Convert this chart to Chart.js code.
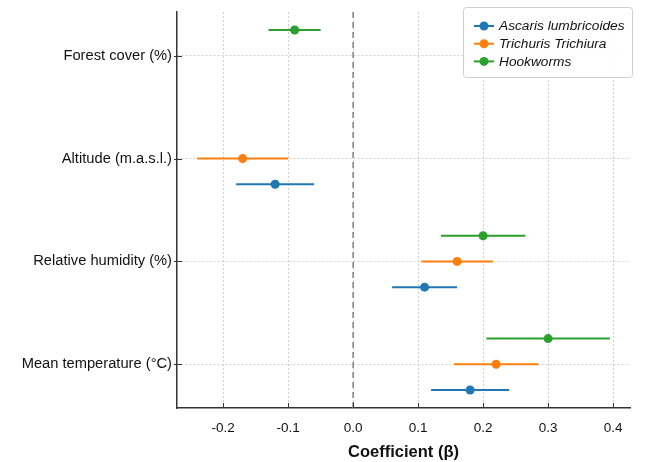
<!DOCTYPE html>
<html>
<head>
<meta charset="utf-8">
<script src="https://cdn.jsdelivr.net/npm/chart.js@4.4.0/dist/chart.umd.min.js"></script>
<style>
  html, body { margin: 0; padding: 0; background: #fff; }
  #wrap { width: 648px; height: 462px; }
</style>
</head>
<body>
<div id="wrap"><canvas id="forest"></canvas></div>
<script>
// rows from bottom (0) to top (3)
const categories = ['Mean temperature (°C)', 'Relative humidity (%)', 'Altitude (m.a.s.l.)', 'Forest cover (%)'];
const seriesNames = ['Ascaris lumbricoides', 'Trichuris Trichiura', 'Hookworms'];
const seriesColors = ['#1f77b4', '#ff7f0e', '#2ca02c'];
const rowOffsets = [-0.25, 0, 0.25];

// coefficient estimates and 95% CI
const ascarisEst = [0.18, 0.11, -0.12, null];
const ascarisLow = [0.12, 0.06, -0.18, null];
const ascarisHigh = [0.24, 0.16, -0.06, null];

const trichurisEst = [0.22, 0.16, -0.17, null];
const trichurisLow = [0.155, 0.105, -0.24, null];
const trichurisHigh = [0.285, 0.215, -0.10, null];

const hookEst = [0.30, 0.20, null, -0.09];
const hookLow = [0.205, 0.135, null, -0.13];
const hookHigh = [0.395, 0.265, null, -0.05];

const xTicks = [-0.2, -0.1, 0.0, 0.1, 0.2, 0.3, 0.4];

const estimates = [ascarisEst, trichurisEst, hookEst];
const lows = [ascarisLow, trichurisLow, hookLow];
const highs = [ascarisHigh, trichurisHigh, hookHigh];

function buildPoints(s) {
    const pts = [];
    categories.forEach((c, i) => {
        if (estimates[s][i] === null) return;
        pts.push({ x: estimates[s][i], y: i + rowOffsets[s], lo: lows[s][i], hi: highs[s][i] });
    });
    return pts;
}

const datasets = seriesNames.map((name, s) => ({
    label: name,
    data: buildPoints(s),
    backgroundColor: seriesColors[s],
    borderColor: seriesColors[s],
    pointRadius: 4.5,
    pointHoverRadius: 4.5,
    borderWidth: 0
}));

const FONT = '"Liberation Sans", Arial, sans-serif';

// whiskers, zero line, inward ticks, legend box
const forestPlugin = {
    id: 'forestPlugin',
    beforeDatasetsDraw(chart) {
        const { ctx, chartArea, scales: { x, y } } = chart;
        ctx.save();
        // zero reference
        ctx.strokeStyle = '#888';
        ctx.lineWidth = 1.6;
        ctx.setLineDash([6, 4]);
        ctx.beginPath();
        ctx.moveTo(x.getPixelForValue(0), chartArea.top);
        ctx.lineTo(x.getPixelForValue(0), chartArea.bottom);
        ctx.stroke();
        ctx.setLineDash([]);
        // error bars
        chart.data.datasets.forEach(ds => {
            ctx.strokeStyle = ds.borderColor;
            ctx.lineWidth = 2;
            ds.data.forEach(p => {
                const py = y.getPixelForValue(p.y);
                ctx.beginPath();
                ctx.moveTo(x.getPixelForValue(p.lo), py);
                ctx.lineTo(x.getPixelForValue(p.hi), py);
                ctx.stroke();
            });
        });
        ctx.restore();
    },
    afterDraw(chart) {
        const { ctx, chartArea, scales: { x, y } } = chart;
        ctx.save();
        // inward ticks
        ctx.strokeStyle = '#333';
        ctx.lineWidth = 1;
        xTicks.forEach(v => {
            const px = Math.round(x.getPixelForValue(v)) + 0.5;
            ctx.beginPath();
            ctx.moveTo(px, chartArea.bottom);
            ctx.lineTo(px, chartArea.bottom - 5);
            ctx.stroke();
        });
        categories.forEach((c, i) => {
            const py = Math.round(y.getPixelForValue(i)) + 0.5;
            ctx.beginPath();
            ctx.moveTo(chartArea.left - 3, py);
            ctx.lineTo(chartArea.left + 5, py);
            ctx.stroke();
        });
        // legend
        const bx = 463, by = 7, bw = 169, bh = 70;
        ctx.fillStyle = 'rgba(255,255,255,0.9)';
        ctx.strokeStyle = '#cfcfcf';
        ctx.lineWidth = 1;
        ctx.beginPath();
        ctx.roundRect(bx + 0.5, by + 0.5, bw, bh, 3);
        ctx.fill();
        ctx.stroke();
        ctx.font = 'italic 13.7px ' + FONT;
        ctx.textBaseline = 'middle';
        seriesNames.forEach((name, s) => {
            const ly = by + 19 + s * 17.7;
            ctx.strokeStyle = seriesColors[s];
            ctx.lineWidth = 2;
            ctx.beginPath();
            ctx.moveTo(474, ly);
            ctx.lineTo(494, ly);
            ctx.stroke();
            ctx.fillStyle = seriesColors[s];
            ctx.beginPath();
            ctx.arc(484, ly, 4.5, 0, Math.PI * 2);
            ctx.fill();
            ctx.fillStyle = '#111';
            ctx.fillText(name, 499, ly + 0.5);
        });
        ctx.restore();
    }
};

new Chart(document.getElementById('forest'), {
    type: 'scatter',
    data: { datasets: datasets },
    plugins: [forestPlugin],
    options: {
        responsive: true,
        maintainAspectRatio: false,
        animation: false,
        layout: { padding: { top: 12, right: 18, left: 0, bottom: 0 } },
        plugins: {
            legend: { display: false },
            tooltip: { enabled: false }
        },
        scales: {
            x: {
                type: 'linear',
                min: -0.271,
                max: 0.426,
                afterBuildTicks: scale => { scale.ticks = xTicks.map(v => ({ value: v })); },
                afterFit: scale => { scale.height = 54; scale.paddingLeft = 0; scale.paddingRight = 0; },
                ticks: {
                    color: '#111',
                    padding: 12,
                    font: { family: FONT, size: 13.5 },
                    callback: v => v.toFixed(1)
                },
                grid: { color: '#d0d0d0', lineWidth: 1, drawTicks: false },
                border: { display: true, color: '#333', width: 1.5, dash: [2, 2] },
                title: {
                    display: true,
                    text: 'Coefficient (β)',
                    color: '#111',
                    font: { family: FONT, size: 16.5, weight: 'bold' },
                    padding: { top: 1, bottom: 0 }
                }
            },
            y: {
                type: 'linear',
                min: -0.425,
                max: 3.425,
                afterBuildTicks: scale => { scale.ticks = categories.map((c, i) => ({ value: i })); },
                afterFit: scale => { scale.width = 177; scale.paddingTop = 0; scale.paddingBottom = 0; },
                ticks: {
                    color: '#111',
                    padding: 5,
                    font: { family: FONT, size: 14.7 },
                    callback: v => categories[v]
                },
                grid: { color: '#d0d0d0', lineWidth: 1, drawTicks: false },
                border: { display: true, color: '#333', width: 1.5, dash: [2, 2] }
            }
        }
    }
});
</script>
</body>
</html>
